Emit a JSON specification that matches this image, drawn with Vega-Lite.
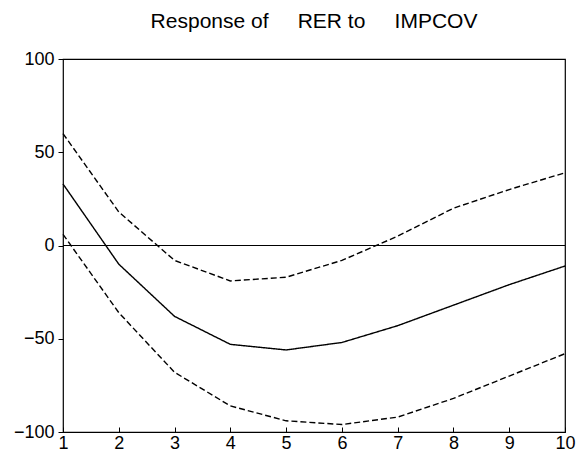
{
  "$schema": "https://vega.github.io/schema/vega-lite/v6.json",
  "autosize": {"type": "none"},
  "width": 502,
  "height": 373,
  "padding": {"left": 63, "top": 59, "right": 13, "bottom": 33},
  "background": "white",
  "config": {
    "font": "Liberation Sans",
    "view": {"stroke": "black", "strokeWidth": 1.2},
    "axis": {"grid": false, "domain": false, "labelFont": "Liberation Sans", "labelFontSize": 18, "labelColor": "black", "tickColor": "black", "tickWidth": 1, "titleFontSize": 0}
  },
  "title": {
    "text": "Response of\u00a0\u00a0\u00a0\u00a0\u00a0RER to\u00a0\u00a0\u00a0\u00a0\u00a0IMPCOV",
    "anchor": "middle",
    "offset": 18,
    "font": "Liberation Sans",
    "fontSize": 21,
    "fontWeight": "normal",
    "color": "black"
  },
  "datasets": {
    "irf": [
      {"period": 1, "value": 33, "series": "Response", "kind": "solid"},
      {"period": 2, "value": -10, "series": "Response", "kind": "solid"},
      {"period": 3, "value": -38, "series": "Response", "kind": "solid"},
      {"period": 4, "value": -53, "series": "Response", "kind": "solid"},
      {"period": 5, "value": -56, "series": "Response", "kind": "solid"},
      {"period": 6, "value": -52, "series": "Response", "kind": "solid"},
      {"period": 7, "value": -43, "series": "Response", "kind": "solid"},
      {"period": 8, "value": -32, "series": "Response", "kind": "solid"},
      {"period": 9, "value": -21, "series": "Response", "kind": "solid"},
      {"period": 10, "value": -11, "series": "Response", "kind": "solid"},
      {"period": 1, "value": 60, "series": "Upper", "kind": "dashed"},
      {"period": 2, "value": 18, "series": "Upper", "kind": "dashed"},
      {"period": 3, "value": -8, "series": "Upper", "kind": "dashed"},
      {"period": 4, "value": -19, "series": "Upper", "kind": "dashed"},
      {"period": 5, "value": -17, "series": "Upper", "kind": "dashed"},
      {"period": 6, "value": -8, "series": "Upper", "kind": "dashed"},
      {"period": 7, "value": 5, "series": "Upper", "kind": "dashed"},
      {"period": 8, "value": 20, "series": "Upper", "kind": "dashed"},
      {"period": 9, "value": 30, "series": "Upper", "kind": "dashed"},
      {"period": 10, "value": 39, "series": "Upper", "kind": "dashed"},
      {"period": 1, "value": 6, "series": "Lower", "kind": "dashed"},
      {"period": 2, "value": -36, "series": "Lower", "kind": "dashed"},
      {"period": 3, "value": -68, "series": "Lower", "kind": "dashed"},
      {"period": 4, "value": -86, "series": "Lower", "kind": "dashed"},
      {"period": 5, "value": -94, "series": "Lower", "kind": "dashed"},
      {"period": 6, "value": -96, "series": "Lower", "kind": "dashed"},
      {"period": 7, "value": -92, "series": "Lower", "kind": "dashed"},
      {"period": 8, "value": -82, "series": "Lower", "kind": "dashed"},
      {"period": 9, "value": -70, "series": "Lower", "kind": "dashed"},
      {"period": 10, "value": -58, "series": "Lower", "kind": "dashed"}
    ],
    "zero": [{"y": 0}]
  },
  "layer": [
    {
      "data": {"name": "zero"},
      "mark": {"type": "rule", "color": "black", "strokeWidth": 1.2},
      "encoding": {"y": {"field": "y", "type": "quantitative", "scale": {"domain": [-100, 100]}}}
    },
    {
      "data": {"name": "irf"},
      "mark": {"type": "line", "color": "black", "strokeWidth": 1.4},
      "encoding": {
        "x": {
          "field": "period", "type": "quantitative",
          "scale": {"domain": [1, 10], "nice": false, "zero": false},
          "axis": {"values": [1, 2, 3, 4, 5, 6, 7, 8, 9, 10], "title": null, "tickSize": -5, "labelPadding": 7, "labelFlush": false}
        },
        "y": {
          "field": "value", "type": "quantitative",
          "scale": {"domain": [-100, 100], "nice": false},
          "axis": {"values": [-100, -50, 0, 50, 100], "title": null, "tickSize": 5, "labelPadding": 4}
        },
        "detail": {"field": "series"},
        "strokeDash": {
          "field": "kind", "type": "nominal",
          "scale": {"domain": ["solid", "dashed"], "range": [[1, 0], [6, 3]]},
          "legend": null
        }
      }
    }
  ]
}
